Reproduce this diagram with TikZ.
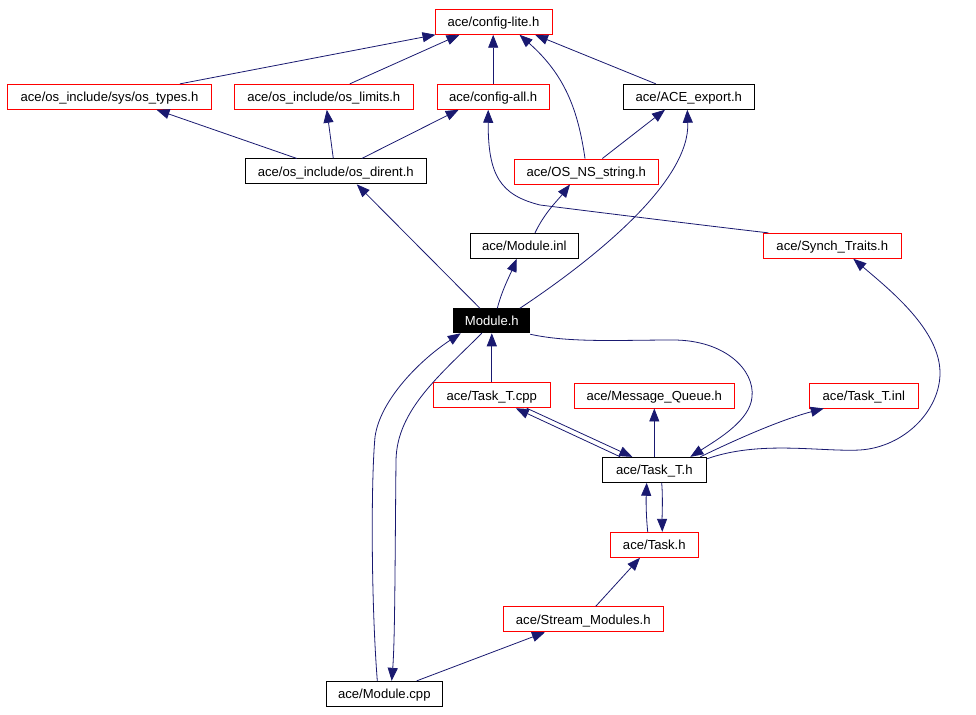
\documentclass[tikz,border=0pt]{standalone}
\usepackage{fontspec}
\setmainfont{Liberation Sans}
\usetikzlibrary{arrows.meta}
\definecolor{edgeblue}{HTML}{191970}
\definecolor{boxred}{HTML}{FF0000}
\tikzset{
  fbox/.style={draw, line width=0.9pt, rectangle, inner sep=0pt, minimum height=25pt,
    text height=12.4pt, text depth=2.6pt,
    font=\fontsize{13.1}{15}\selectfont, fill=white},
  redbox/.style={fbox, draw=boxred},
  blackbox/.style={fbox, draw=black},
  hibox/.style={fbox, draw=black, fill=black, text=white},
  edge/.style={draw=edgeblue, line width=0.8pt,
    -{Triangle[length=13pt,width=10pt,fill=edgeblue]}},
}
\begin{document}
\begin{tikzpicture}[x=1pt,y=-1pt]
\useasboundingbox (0,0) rectangle (976,714);
% nodes
\node[redbox, minimum width=117pt] (cl) at (493.5,21.8) {ace/config-lite.h};
\node[redbox, minimum width=204.4pt] (ot) at (109.5,96.8) {ace/os\_include/sys/os\_types.h};
\node[redbox, minimum width=179pt] (ol) at (323.8,96.8) {ace/os\_include/os\_limits.h};
\node[redbox, minimum width=112.3pt] (ca) at (493.2,96.8) {ace/config-all.h};
\node[blackbox, minimum width=131pt] (ae) at (688.8,96.8) {ace/ACE\_export.h};
\node[blackbox, minimum width=181pt] (od) at (335.8,171.4) {ace/os\_include/os\_dirent.h};
\node[redbox, minimum width=144pt] (os) at (586.3,171.5) {ace/OS\_NS\_string.h};
\node[blackbox, minimum width=108pt] (mi) at (524.3,245.8) {ace/Module.inl};
\node[redbox, minimum width=138pt] (st) at (832.3,245.8) {ace/Synch\_Traits.h};
\node[hibox, minimum width=76pt, minimum height=24pt] (mh) at (491.8,320.8) {Module.h};
\node[redbox, minimum width=117pt] (ttc) at (491.8,395.3) {ace/Task\_T.cpp};
\node[redbox, minimum width=160pt] (mq) at (654.3,395.5) {ace/Message\_Queue.h};
\node[redbox, minimum width=109pt] (tti) at (863.8,395.5) {ace/Task\_T.inl};
\node[blackbox, minimum width=104pt] (tth) at (654.3,469.8) {ace/Task\_T.h};
\node[redbox, minimum width=88pt] (th) at (654.3,544.8) {ace/Task.h};
\node[redbox, minimum width=160pt] (sm) at (583.3,619.3) {ace/Stream\_Modules.h};
\node[blackbox, minimum width=116pt] (mc) at (384.3,693.8) {ace/Module.cpp};
% edges
\draw[edge] ([xshift=70.5pt]ot.north) -- ([xshift=-58pt]cl.south);
\draw[edge] ([xshift=26pt]ol.north) -- ([xshift=-34pt]cl.south);
\draw[edge] (ca.north) -- ([xshift=-0.3pt]cl.south);
\draw[edge] ([xshift=-1.3pt]os.north) .. controls (578,110) and (565,75) .. ([xshift=26pt]cl.south);
\draw[edge] ([xshift=-33pt]ae.north) -- ([xshift=41.5pt]cl.south);
\draw[edge] ([xshift=-39pt]od.north) -- ([xshift=47pt]ot.south);
\draw[edge] ([xshift=-2.5pt]od.north) -- ([xshift=3pt]ol.south);
\draw[edge] ([xshift=26pt]od.north) -- ([xshift=-34.5pt]ca.south);
\draw[edge] ([xshift=16pt]os.north) -- ([xshift=-23.8pt]ae.south);
\draw[edge] ([xshift=10.7pt]mi.north) .. controls (545,212) and (558,200) .. ([xshift=-16.3pt]os.south);
\draw[edge] ([xshift=-11.8pt]mh.north) -- ([xshift=21pt]od.south);
\draw[edge] ([xshift=5.5pt]mh.north) .. controls (502,290) and (510,275) .. ([xshift=-7.6pt]mi.south);
\draw[edge] ([xshift=28pt]mh.north) .. controls (600,255) and (690,180) .. ([xshift=-1.5pt]ae.south);
\draw[edge] ([xshift=-64pt]st.north) .. controls (700,225) and (580,210) .. (540,205)
  .. controls (500,195) and (488,175) .. ([xshift=-5pt]ca.south);
\draw[edge] ([yshift=-1pt]mh.south east) .. controls (570,343) and (620,340) .. (673,340)
  .. controls (725,340) and (755,370) .. (752,397)
  .. controls (750,420) and (720,438) .. ([xshift=36pt]tth.north);
\draw[edge] (ttc.north) -- (mh.south);
\draw[edge] ([xshift=35pt]ttc.south) -- ([xshift=-22pt]tth.north);
\draw[edge] ([xshift=-34pt]tth.north) -- ([xshift=24pt]ttc.south);
\draw[edge] (tth.north) -- (mq.south);
\draw[edge] ([xshift=46pt]tth.north) .. controls (735,440) and (780,420) .. ([xshift=-40pt]tti.south);
\draw[edge] ([yshift=-2pt]tth.north east) .. controls (760,440) and (820,452) .. (860,450)
  .. controls (905,447) and (940,410) .. (940,373)
  .. controls (940,330) and (890,290) .. ([xshift=21pt]st.south);
\draw[edge] ([xshift=-6.6pt]th.north) .. controls (646,515) and (646,500) .. ([xshift=-7.6pt]tth.south);
\draw[edge] ([xshift=7.4pt]tth.south) .. controls (663,500) and (662,515) .. ([xshift=8pt]th.north);
\draw[edge] ([xshift=12.4pt]sm.north) -- ([xshift=-14.3pt]th.south);
\draw[edge] ([xshift=32.4pt]mc.north) -- ([xshift=-38.3pt]sm.south);
\draw[edge] ([xshift=-7pt]mc.north) .. controls (371,600) and (371,480) .. (375,437)
  .. controls (380,400) and (420,360) .. ([xshift=-31pt]mh.south);
\draw[edge] ([xshift=-10pt]mh.south) .. controls (440,375) and (397,410) .. (396,460)
  .. controls (395,560) and (395,640) .. ([xshift=7.4pt]mc.north);
\end{tikzpicture}
\end{document}
